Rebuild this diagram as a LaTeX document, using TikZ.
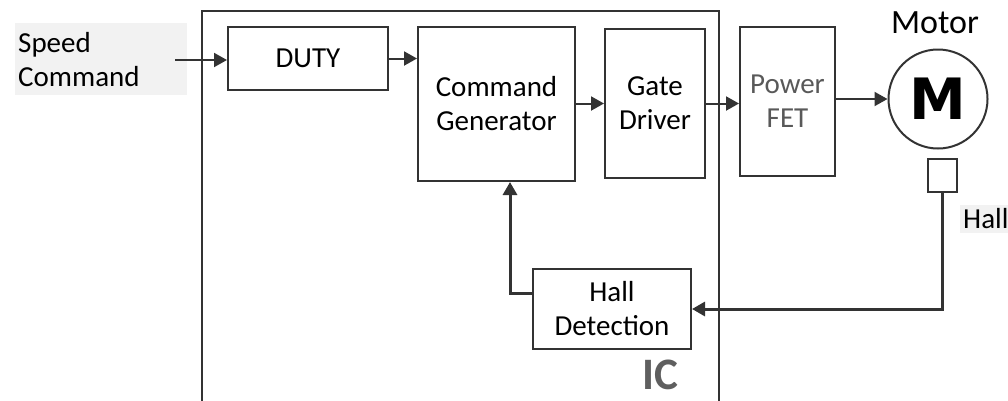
\documentclass[tikz,border=0pt]{standalone}
\usepackage{fontspec}
\setmainfont{Carlito}
\newfontfamily\mfont{DejaVu Sans}
\usetikzlibrary{arrows.meta}
\definecolor{ln}{HTML}{333333}
\definecolor{lblbg}{HTML}{F2F2F2}
\definecolor{icg}{HTML}{5F5F5F}
\definecolor{fetg}{HTML}{595959}
\begin{document}
\begin{tikzpicture}[x=1pt,y=-1pt,
  blk/.style={draw=ln, line width=2pt, align=center, inner sep=0pt, font=\fontsize{29}{34}\selectfont},
  con/.style={draw=ln, line width=2pt, -{Triangle[length=13pt,width=14pt]}},
  fb/.style={con, line width=3pt},
  tag/.style={fill=lblbg, inner sep=0pt, align=left, font=\fontsize{29}{34}\selectfont}]
\useasboundingbox (0,0) rectangle (1008,400);
\clip (0,0) rectangle (1008,400);
% IC outline
\draw[ln, line width=2pt] (202,420) |- (719,11) -- (719,420);
\node[font=\fontsize{45}{45}\selectfont\bfseries, text=icg, anchor=base, inner sep=0pt, text depth=0pt] (ic) at (660,389) {IC};
% blocks
\node[blk, minimum width=160pt, minimum height=63pt] (duty) at (308,58.5) {DUTY};
\node[blk, minimum width=157pt, minimum height=154pt] (cmd) at (496.5,104) {Command\\Generator};
\node[blk, minimum width=100pt, minimum height=149pt] (gate) at (655,103.5) {Gate\\Driver};
\node[blk, minimum width=95pt, minimum height=149pt, text=fetg] (fet) at (787.5,101.5) {Power\\FET};
\node[blk, minimum width=158pt, minimum height=80pt] (hall) at (612,309) {Hall\\Detection};
\node[draw=ln, line width=2pt, circle, minimum size=99pt, inner sep=0pt, font=\mfont\fontsize{57}{57}\selectfont\bfseries] (motor) at (938,99) {M};
\node[font=\fontsize{34}{34}\selectfont, anchor=base] (mlabel) at (935,33) {Motor};
\node[draw=ln, line width=2pt, minimum width=29pt, minimum height=33pt, inner sep=0pt] (sensor) at (942.5,175.5) {};
% labels with grey background
\node[tag, anchor=north west, minimum width=172pt, minimum height=72pt, text width=166pt, inner xsep=3pt] (speed) at (15,23) {Speed\\Command};
\node[tag, anchor=west, minimum height=28pt, minimum width=50pt, inner xsep=3pt] (halllbl) at (960,219) {Hall};
% connectors
\coordinate (sin) at (175,60);
\draw[con] (sin) -- (duty.west |- sin);
\draw[con] (duty.east) -- (cmd.west |- duty.east);
\draw[con] (cmd.east |- gate.west) -- (gate.west);
\draw[con] (gate.east) -- (fet.west |- gate.east);
\draw[con] (fet.east |- motor.west) -- (motor.west);
\draw[fb] (sensor.south) |- (hall.east);
\draw[fb] ([yshift=16pt]hall.west) -| ([xshift=13.5pt]cmd.south);
\end{tikzpicture}
\end{document}
